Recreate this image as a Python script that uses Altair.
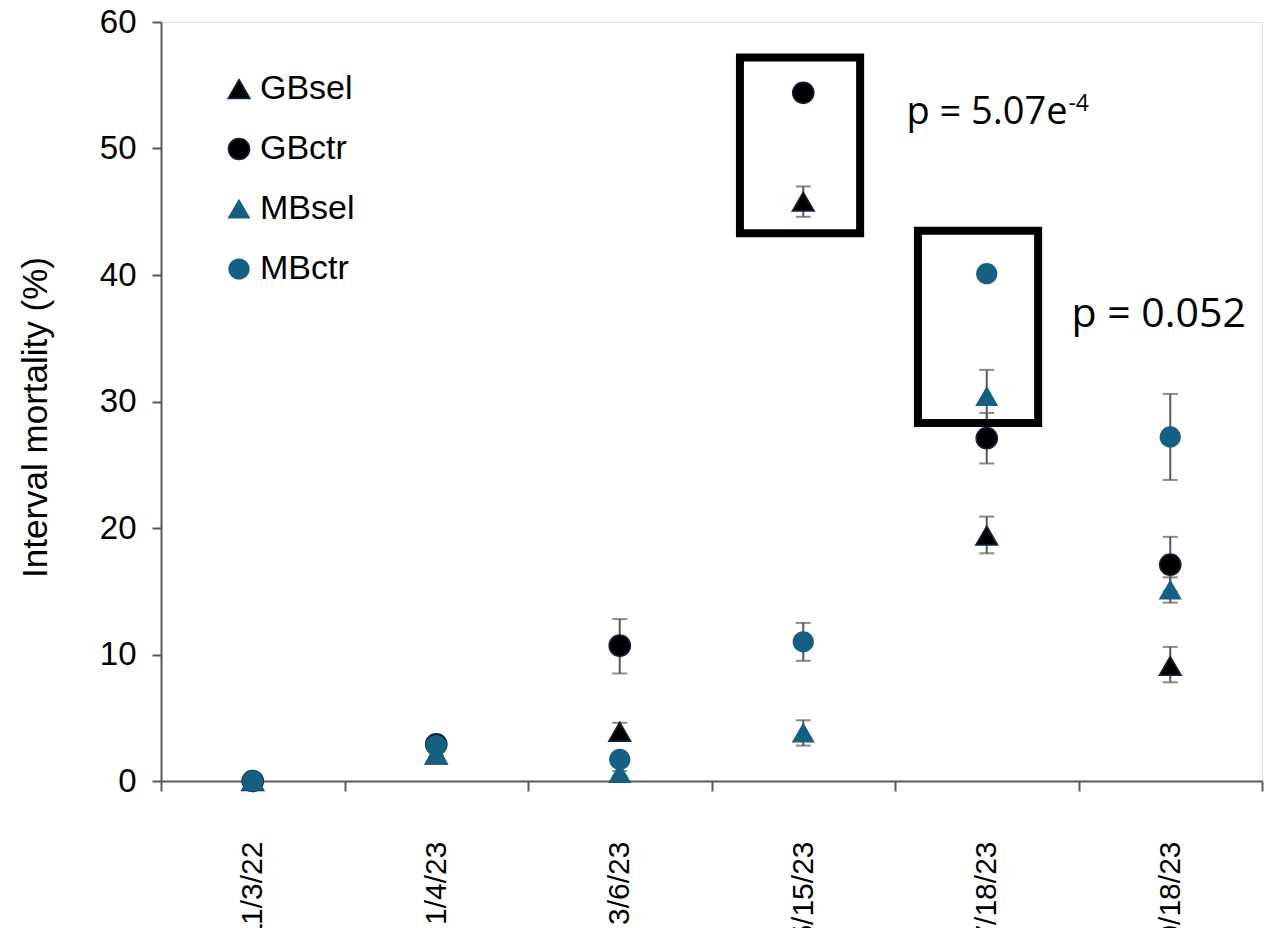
import altair as alt
import pandas as pd

dates = ["11/3/22", "1/4/23", "3/6/23", "5/15/23", "7/18/23", "9/18/23"]
series_names = ["GBsel", "GBctr", "MBsel", "MBctr"]

gbsel = [0.0, 2.1, 3.9, 45.8, 19.4, 9.1]
gbsel_lo = [0.0, 2.0, 3.7, 44.6, 18.0, 7.8]
gbsel_hi = [0.0, 2.3, 4.6, 47.0, 20.9, 10.6]

gbctr = [0.0, 2.9, 10.7, 54.4, 27.1, 17.1]
gbctr_lo = [0.0, 2.7, 8.5, 53.9, 25.1, 15.0]
gbctr_hi = [0.0, 3.1, 12.8, 54.9, 29.1, 19.3]

mbsel = [0.0, 2.1, 0.6, 3.8, 30.4, 15.1]
mbsel_lo = [0.0, 2.0, 0.4, 2.8, 28.3, 14.1]
mbsel_hi = [0.0, 2.3, 0.8, 4.8, 32.5, 16.1]

mbctr = [0.0, 2.8, 1.7, 11.0, 40.1, 27.2]
mbctr_lo = [0.0, 2.7, 1.5, 9.5, 39.7, 23.8]
mbctr_hi = [0.0, 2.9, 1.9, 12.5, 40.5, 30.6]

colors = ["#000000", "#000000", "#156082", "#156082"]
strokes = ["#0e2841", "#0e2841", "#156082", "#156082"]
shapes = ["triangle-up", "circle", "triangle-up", "circle"]
sizes = [480, 390, 420, 300]

y_ticks = [0, 10, 20, 30, 40, 50, 60]

# annotation boxes (data coordinates) and p-value labels
boxes_x = [2.655, 3.625]
boxes_x2 = [3.31, 4.28]
boxes_y = [43.3, 28.3]
boxes_y2 = [57.2, 43.5]
p1_text, p1_x, p1_y = "p = 5.07e", 3.562, 51.9
p2_text, p2_x, p2_y = "p = 0.052", 4.462, 35.9
sup_text, sup_x, sup_y = "-4", 4.445, 53.0

rows = []
for s, v, lo, hi in zip(series_names,
                        [gbsel, gbctr, mbsel, mbctr],
                        [gbsel_lo, gbctr_lo, mbsel_lo, mbctr_lo],
                        [gbsel_hi, gbctr_hi, mbsel_hi, mbctr_hi]):
    for i, d in enumerate(dates):
        rows.append({"series": s, "x": i, "date": d, "y": v[i], "lo": lo[i], "hi": hi[i]})
df = pd.DataFrame(rows)
err = df[df["hi"] > df["lo"]]

FONT = "Liberation Sans"
GRAY = "#595959"
n = len(dates)
label_js = "[" + ",".join("'%s'" % d for d in dates) + "]"

x_scale = alt.Scale(domain=[-0.5, n - 0.5], nice=False, zero=False)
y_scale = alt.Scale(domain=[0, 60], nice=False)

x_axis = alt.Axis(
    values=[i - 0.5 for i in range(n + 1)],
    labelExpr="(datum.value + 0.5) < %d ? %s[round(datum.value + 0.5)] : ''" % (n, label_js),
    labelAngle=270, labelAlign="right", labelBaseline="middle",
    labelOffset=1101 / n / 2, labelPadding=50, labelOverlap=False, labelBound=False,
    labelFlush=False, labelFont=FONT, labelFontSize=30, labelColor="#000000",
    tickSize=10, tickColor=GRAY, tickWidth=2, domainColor=GRAY, domainWidth=2,
    grid=False, title=None,
)
y_axis = alt.Axis(
    values=y_ticks, format="d", labelFont=FONT, labelFontSize=33, labelColor="#000000",
    labelPadding=16, tickSize=9, tickColor=GRAY, tickWidth=2, domainColor=GRAY,
    domainWidth=2, grid=False, title="Interval mortality (%)", titleFont=FONT,
    titleFontSize=35, titleFontWeight="normal", titleColor="#000000", titlePadding=46,
    titleY=395,
)

X = alt.X("x:Q", scale=x_scale, axis=x_axis)

rules = alt.Chart(err).mark_rule(color=GRAY, strokeWidth=2).encode(
    x=X, y=alt.Y("lo:Q", scale=y_scale, axis=y_axis), y2="hi:Q"
)
cap_lo = alt.Chart(err).mark_tick(color=GRAY, orient="horizontal", size=15, thickness=2).encode(
    x=X, y=alt.Y("lo:Q", scale=y_scale, axis=y_axis)
)
cap_hi = alt.Chart(err).mark_tick(color=GRAY, orient="horizontal", size=15, thickness=2).encode(
    x=X, y=alt.Y("hi:Q", scale=y_scale, axis=y_axis)
)

legend = alt.Legend(
    title=None, orient="none", legendX=61, legendY=50, labelFont=FONT, labelFontSize=34,
    labelColor="#000000", rowPadding=26, labelOffset=4, symbolStrokeWidth=1.5,
)
points = alt.Chart(df).mark_point(filled=True, opacity=1, strokeWidth=1.5).encode(
    x=X,
    y=alt.Y("y:Q", scale=y_scale, axis=y_axis),
    color=alt.Color("series:N", scale=alt.Scale(domain=series_names, range=colors), legend=legend, sort=series_names),
    fill=alt.Fill("series:N", scale=alt.Scale(domain=series_names, range=colors), legend=legend, sort=series_names),
    stroke=alt.Stroke("series:N", scale=alt.Scale(domain=series_names, range=strokes), legend=legend, sort=series_names),
    shape=alt.Shape("series:N", scale=alt.Scale(domain=series_names, range=shapes), legend=legend, sort=series_names),
    size=alt.Size("series:N", scale=alt.Scale(domain=series_names, range=sizes), legend=legend, sort=series_names),
)

box_df = pd.DataFrame({"x": boxes_x, "x2": boxes_x2, "y": boxes_y, "y2": boxes_y2})
box_layer = alt.Chart(box_df).mark_rect(fill="transparent", stroke="#000000", strokeWidth=8).encode(
    x=X, x2="x2:Q", y=alt.Y("y:Q", scale=y_scale, axis=y_axis), y2="y2:Q"
)


def text_layer(t, x, y, size):
    d = pd.DataFrame({"x": [x], "y": [y], "t": [t]})
    return alt.Chart(d).mark_text(
        font="Open Sans", fontSize=size, align="left", baseline="alphabetic", color="#000000"
    ).encode(x=X, y=alt.Y("y:Q", scale=y_scale, axis=y_axis), text="t:N")


t1 = text_layer(p1_text, p1_x, p1_y, 38)
t2 = text_layer(p2_text, p2_x, p2_y, 41)
t3 = text_layer(sup_text, sup_x, sup_y, 23)

chart = alt.layer(rules, cap_lo, cap_hi, points, box_layer, t1, t2, t3).properties(
    width=1101, height=759,
    autosize=alt.AutoSizeParams(type="none"),
    padding={"left": 161, "top": 22, "right": 16, "bottom": 160},
).configure_view(stroke="#000000", strokeWidth=1.5).configure(background="white")

chart.save("out.html", embed_options={"renderer": "svg", "actions": False})
